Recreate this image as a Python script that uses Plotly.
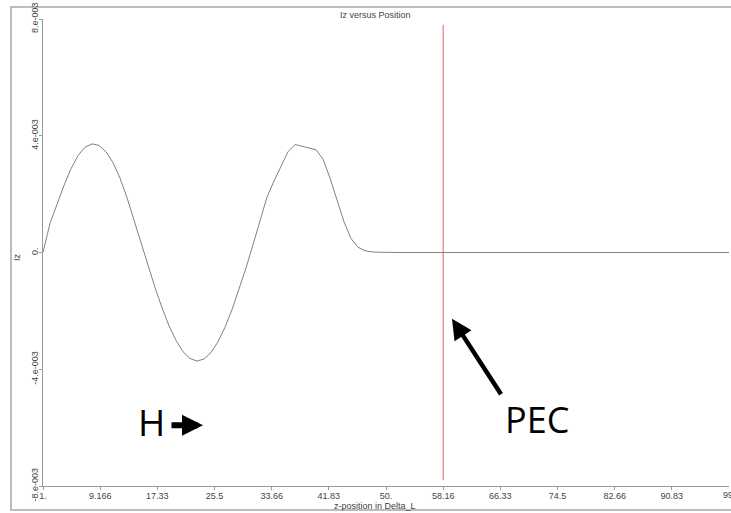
import plotly.graph_objects as go

# Current Iz sampled along z (units of 1e-3), grid points 1..99
z_pos = list(range(1, 100))
iz_milli = [
    0.00, 1.00, 1.65, 2.30, 2.87, 3.32, 3.61, 3.72, 3.67, 3.45,
    3.08, 2.55, 1.88, 1.12, 0.32, -0.46, -1.20, -1.89, -2.51, -3.01,
    -3.40, -3.63, -3.72, -3.65, -3.43, -3.06, -2.56, -1.96, -1.28, -0.53,
    0.27, 1.10, 1.90, 2.45, 2.95, 3.45, 3.70, 3.64, 3.58, 3.52,
    3.20, 2.55, 1.80, 1.05, 0.48, 0.18, 0.06, 0.02, 0.01,
] + [0.0] * 50
iz = [v * 1e-3 for v in iz_milli]

# PEC boundary location
pec_z = 58.1667

x_tickvals = [1 + k * 98 / 12 for k in range(13)]
x_ticktext = ["1.", "9.166", "17.33", "25.5", "33.66", "41.83", "50.",
              "58.16", "66.33", "74.5", "82.66", "90.83", "99."]
y_tickvals = [-8e-3, -4e-3, 0, 4e-3, 8e-3]
y_ticktext = ["-8.e-003", "-4.e-003", "0.", "4.e-003", "8.e-003"]

W, H = 731, 513
L, R, T, B = 43, 2, 17, 27
PW, PH = W - L - R, H - T - B


def px(x):
    return (x - L) / PW


def py(y):
    return (H - B - y) / PH


AX_FONT = dict(family="Liberation Sans, Arial, sans-serif", size=9, color="#444")
BIG_FONT = dict(family="Open Sans, sans-serif", size=37, color="#000")

fig = go.Figure()
fig.add_trace(go.Scatter(x=z_pos, y=iz, mode="lines",
                         line=dict(color="#808080", width=1),
                         showlegend=False, hoverinfo="skip"))

fig.add_shape(type="line", xref="x", yref="y", x0=pec_z, x1=pec_z,
              y0=-7.8e-3, y1=7.8e-3, line=dict(color="#e06060", width=1))

# outer frame
fig.add_shape(type="rect", xref="paper", yref="paper",
              x0=px(11), x1=px(745), y0=py(510), y1=py(5),
              line=dict(color="#bdbdbd", width=2), layer="below")

ann = []
ann.append(dict(text="Iz versus Position", x=px(375), y=py(13), xref="paper", yref="paper",
                showarrow=False, font=AX_FONT, xanchor="center", yanchor="middle"))
ann.append(dict(text="z-position in Delta_L", x=px(375), y=py(506), xref="paper", yref="paper",
                showarrow=False, font=AX_FONT, xanchor="center", yanchor="middle"))
ann.append(dict(text="Iz", x=px(17), y=py(256), xref="paper", yref="paper", textangle=-90,
                showarrow=False, font=AX_FONT, xanchor="center", yanchor="middle"))
# last x tick label, which runs past the right edge
ann.append(dict(text=x_ticktext[-1], x=x_tickvals[-1], y=py(495), xref="x", yref="paper",
                showarrow=False, font=AX_FONT, xanchor="center", yanchor="middle"))
ann.append(dict(text="H", x=px(151), y=py(421), xref="paper", yref="paper",
                showarrow=False, font=BIG_FONT, xanchor="center", yanchor="middle"))
ann.append(dict(text="PEC", x=px(537), y=py(419), xref="paper", yref="paper",
                showarrow=False, font=dict(BIG_FONT, size=36), xanchor="center", yanchor="middle"))
# incident-wave direction arrow
ann.append(dict(text="", x=px(203), y=py(425), xref="paper", yref="paper",
                ax=-33, ay=0, showarrow=True, arrowhead=2, arrowwidth=6,
                arrowsize=0.7, arrowcolor="#000"))
# arrow pointing at the PEC wall
ann.append(dict(text="", x=px(452), y=py(318), xref="paper", yref="paper",
                ax=50, ay=77, showarrow=True, arrowhead=2, arrowwidth=4.5,
                arrowsize=0.9, arrowcolor="#000"))

fig.update_layout(
    width=W, height=H,
    margin=dict(l=L, r=R, t=T, b=B, pad=0),
    paper_bgcolor="white", plot_bgcolor="white",
    annotations=ann,
    xaxis=dict(range=[1, 99], tickvals=x_tickvals[:-1], ticktext=x_ticktext[:-1],
               showgrid=False, zeroline=False, showline=True, linecolor="#999",
               linewidth=1, ticks="outside", ticklen=3, tickcolor="#999",
               tickfont=AX_FONT, ticklabelstandoff=-2),
    yaxis=dict(range=[-8e-3, 8e-3], tickvals=y_tickvals, ticktext=y_ticktext,
               showgrid=False, zeroline=False, showline=True, linecolor="#999",
               linewidth=1, ticks="outside", ticklen=3, tickcolor="#999",
               tickangle=-90, tickfont=AX_FONT, ticklabelstandoff=-3),
)

fig.write_html("out.html")
